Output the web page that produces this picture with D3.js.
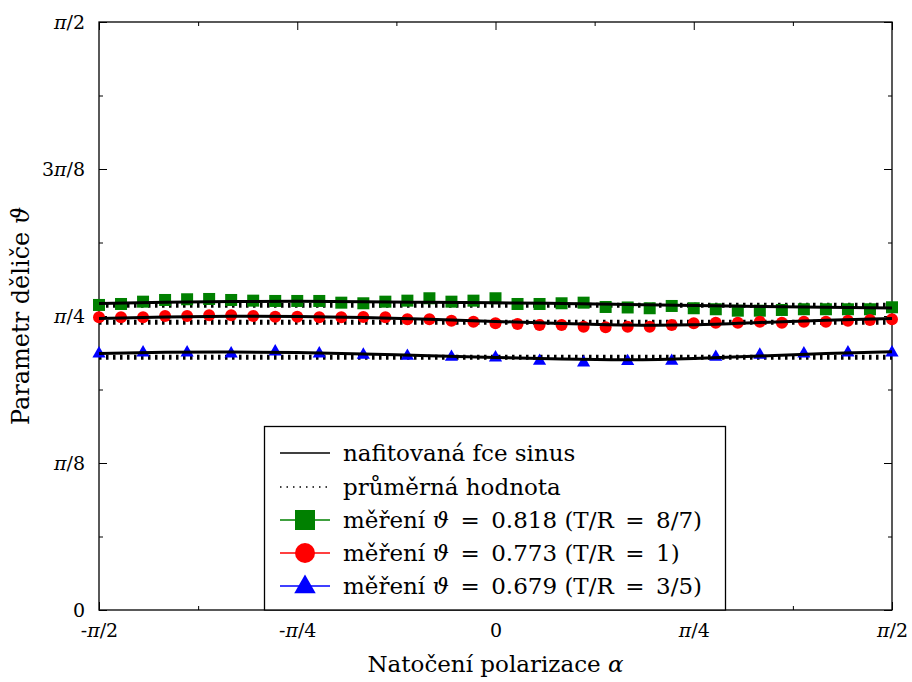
<!DOCTYPE html>
<html>
<head>
<meta charset="utf-8">
<script src="https://cdn.jsdelivr.net/npm/d3@7"></script>
<style>
  body { margin: 0; background: #fff; }
  svg text { font-family: "DejaVu Serif", serif; fill: #000; }
</style>
</head>
<body>
<div id="chart"></div>
<script>
// polarisation angle in degrees
var angles5 = [-90,-85,-80,-75,-70,-65,-60,-55,-50,-45,-40,-35,-30,-25,-20,-15,-10,-5,0,
               5,10,15,20,25,30,35,40,45,50,55,60,65,70,75,80,85,90];
var angles10 = [-90,-80,-70,-60,-50,-40,-30,-20,-10,0,10,20,30,40,50,60,70,80,90];
var fitAngles = [-90,-75,-60,-45,-30,-15,0,15,30,45,60,75,90];

// measured theta (rad)
var greenMeas = [0.8149,0.8175,0.8237,0.8282,0.8301,0.8309,0.8282,0.8264,0.8256,0.8256,
                 0.8256,0.8210,0.8194,0.8237,0.8264,0.8328,0.8237,0.8264,0.8328,0.8175,
                 0.8175,0.8194,0.8210,0.8095,0.8082,0.8061,0.8122,0.8061,0.8034,0.7996,
                 0.7996,0.8015,0.8034,0.8034,0.8034,0.8034,0.8087];
var redMeas = [0.7820,0.7820,0.7820,0.7855,0.7855,0.7874,0.7874,0.7855,0.7836,0.7836,
               0.7820,0.7820,0.7828,0.7820,0.7767,0.7767,0.7729,0.7703,0.7660,0.7641,
               0.7614,0.7614,0.7569,0.7553,0.7569,0.7569,0.7614,0.7660,0.7676,0.7676,
               0.7703,0.7676,0.7703,0.7703,0.7729,0.7748,0.7767];
var blueMeas = [0.6848,0.6874,0.6874,0.6848,0.6901,0.6848,0.6813,0.6786,0.6759,0.6741,
                0.6652,0.6607,0.6644,0.6652,0.6759,0.6813,0.6848,0.6874,0.6874];

// fitted sine curves
var greenFit = [0.8189,0.8221,0.8242,0.8248,0.8234,0.8221,0.8207,0.8189,0.8162,0.8135,0.8109,0.8087,0.8069];
var redFit   = [0.7788,0.7828,0.7847,0.7841,0.7815,0.7767,0.7708,0.7654,0.7614,0.7620,0.7681,0.7740,0.7788];
var blueFit  = [0.6853,0.6885,0.6893,0.6880,0.6840,0.6791,0.6746,0.6706,0.6685,0.6719,0.6786,0.6853,0.6898];

// mean values
var means = [0.818, 0.773, 0.679];

var xMajor = [-90,-45,0,45,90];
var xMajorLabels = ["-π/2","-π/4","0","π/4","π/2"];
var xMinor = [-67.5,-22.5,22.5,67.5];
var yMajorLabels = ["0","π/8","π/4","3π/8","π/2"];

var legendLabels = ["nafitovaná fce sinus","průměrná hodnota",
  "měření ϑ\u2002=\u20020.818 (T/R\u2002=\u20028/7)",
  "měření ϑ\u2002=\u20020.773 (T/R\u2002=\u20021)",
  "měření ϑ\u2002=\u20020.679 (T/R\u2002=\u20023/5)"];

var w = 912, h = 682;
var pL = 99, pR = 892, pT = 22, pB = 610;

var svg = d3.select("#chart").append("svg")
  .attr("width", w).attr("height", h);

var xScale = d3.scaleLinear().domain([-90, 90]).range([pL, pR]);
var yScale = d3.scaleLinear().domain([0, Math.PI/2]).range([pB, pT]);

var yMajor = [0,1,2,3,4].map(function(k){ return k*Math.PI/8; });
var yMinor = [1,3,5,7].map(function(k){ return k*Math.PI/16; });

// greek letters in italic
function piText(sel) {
  sel.each(function() {
    var t = d3.select(this);
    var s = t.text();
    t.text(null);
    s.split(/(π|ϑ|α)/).forEach(function(part) {
      if (part === "") return;
      var ts = t.append("tspan").text(part);
      if (part === "π" || part === "ϑ" || part === "α") ts.style("font-style", "italic");
    });
  });
}

// axes: ticks point inward, mirrored on top and right
var xAxis = d3.axisBottom(xScale).tickValues(xMajor).tickSize(-8).tickPadding(14)
  .tickFormat(function(d, i){ return xMajorLabels[i]; });
svg.append("g").attr("transform", "translate(0," + pB + ")").call(xAxis);
svg.append("g").attr("transform", "translate(0," + pB + ")")
  .call(d3.axisBottom(xScale).tickValues(xMinor).tickSize(-4).tickFormat(""));
svg.append("g").attr("transform", "translate(0," + pT + ")")
  .call(d3.axisTop(xScale).tickValues(xMajor).tickSize(-8).tickFormat(""));
svg.append("g").attr("transform", "translate(0," + pT + ")")
  .call(d3.axisTop(xScale).tickValues(xMinor).tickSize(-4).tickFormat(""));

var yAxis = d3.axisLeft(yScale).tickValues(yMajor).tickSize(-8).tickPadding(14)
  .tickFormat(function(d, i){ return yMajorLabels[i]; });
svg.append("g").attr("transform", "translate(" + pL + ",0)").call(yAxis);
svg.append("g").attr("transform", "translate(" + pL + ",0)")
  .call(d3.axisLeft(yScale).tickValues(yMinor).tickSize(-4).tickFormat(""));
svg.append("g").attr("transform", "translate(" + pR + ",0)")
  .call(d3.axisRight(yScale).tickValues(yMajor).tickSize(-8).tickFormat(""));
svg.append("g").attr("transform", "translate(" + pR + ",0)")
  .call(d3.axisRight(yScale).tickValues(yMinor).tickSize(-4).tickFormat(""));

svg.selectAll(".domain").remove();
svg.selectAll(".tick line").attr("stroke", "#000").attr("stroke-width", 1);
svg.selectAll(".tick text").style("font-size", "19px")
  .style("font-family", "'DejaVu Serif', serif").call(piText);

// frame
svg.append("rect")
  .attr("x", pL).attr("y", pT)
  .attr("width", pR - pL).attr("height", pB - pT)
  .attr("fill", "none").attr("stroke", "#000").attr("stroke-width", 1.3);

// mean (dotted) lines
svg.append("g").selectAll("line").data(means).enter().append("line")
  .attr("x1", xScale(-90)).attr("x2", xScale(90))
  .attr("y1", function(d){ return yScale(d) + 1.5; })
  .attr("y2", function(d){ return yScale(d) + 1.5; })
  .attr("stroke", "#000").attr("stroke-width", 5)
  .attr("stroke-dasharray", "2.5 4.5");

// fitted curves
var fitLine = d3.line()
  .x(function(d, i){ return xScale(fitAngles[i]); })
  .y(function(d){ return yScale(d); })
  .curve(d3.curveNatural);

// measured points
var green = "#008000", red = "#ff0000", blue = "#0000ff";

svg.append("g").selectAll("rect").data(greenMeas).enter().append("rect")
  .attr("x", function(d, i){ return xScale(angles5[i]) - 6; })
  .attr("y", function(d){ return yScale(d) - 6; })
  .attr("width", 12).attr("height", 12)
  .attr("fill", green);

svg.append("g").selectAll("circle").data(redMeas).enter().append("circle")
  .attr("cx", function(d, i){ return xScale(angles5[i]); })
  .attr("cy", function(d){ return yScale(d); })
  .attr("r", 6)
  .attr("fill", red);

var tri = d3.symbol().type(d3.symbolTriangle).size(75);
svg.append("g").selectAll("path").data(blueMeas).enter().append("path")
  .attr("d", tri)
  .attr("transform", function(d, i){
    return "translate(" + xScale(angles10[i]) + "," + yScale(d) + ")";
  })
  .attr("fill", blue);

[greenFit, redFit, blueFit].forEach(function(f) {
  svg.append("path").datum(f)
    .attr("d", fitLine)
    .attr("fill", "none").attr("stroke", "#000").attr("stroke-width", 3);
});

// legend
var lg = svg.append("g");
lg.append("rect")
  .attr("x", 264.5).attr("y", 426.5)
  .attr("width", 461).attr("height", pB - 426.5)
  .attr("fill", "#fff").attr("stroke", "#000").attr("stroke-width", 1.3);

var rowY = [453, 487, 520, 553, 586];
var lx1 = 280, lx2 = 330, lxm = 305, ltx = 343;

lg.append("line").attr("x1", lx1).attr("x2", lx2).attr("y1", rowY[0]).attr("y2", rowY[0])
  .attr("stroke", "#000").attr("stroke-width", 1.5);
lg.append("line").attr("x1", lx1).attr("x2", lx2).attr("y1", rowY[1]).attr("y2", rowY[1])
  .attr("stroke", "#000").attr("stroke-width", 1.5).attr("stroke-dasharray", "1.5 5");

[green, red, blue].forEach(function(c, i) {
  lg.append("line").attr("x1", lx1).attr("x2", lx2)
    .attr("y1", rowY[i+2]).attr("y2", rowY[i+2])
    .attr("stroke", c).attr("stroke-width", 1.5);
});
lg.append("rect").attr("x", lxm - 10).attr("y", rowY[2] - 10)
  .attr("width", 20).attr("height", 20).attr("fill", green);
lg.append("circle").attr("cx", lxm).attr("cy", rowY[3]).attr("r", 10).attr("fill", red);
lg.append("path").attr("d", d3.symbol().type(d3.symbolTriangle).size(200))
  .attr("transform", "translate(" + lxm + "," + (rowY[4] + 1) + ")").attr("fill", blue);

lg.selectAll("text.lab").data(legendLabels).enter().append("text")
  .attr("class", "lab")
  .attr("x", ltx).attr("y", function(d, i){ return rowY[i]; })
  .attr("dy", "0.35em")
  .style("font-size", "23px")
  .text(function(d){ return d; })
  .call(piText);

// axis titles
svg.append("text")
  .attr("x", xScale(0)).attr("y", 672)
  .attr("text-anchor", "middle").style("font-size", "23px")
  .text("Natočení polarizace α").call(piText);

svg.append("text")
  .attr("transform", "translate(29," + yScale(Math.PI/4) + ") rotate(-90)")
  .attr("text-anchor", "middle").style("font-size", "24px")
  .text("Parametr děliče ϑ").call(piText);
</script>
</body>
</html>
